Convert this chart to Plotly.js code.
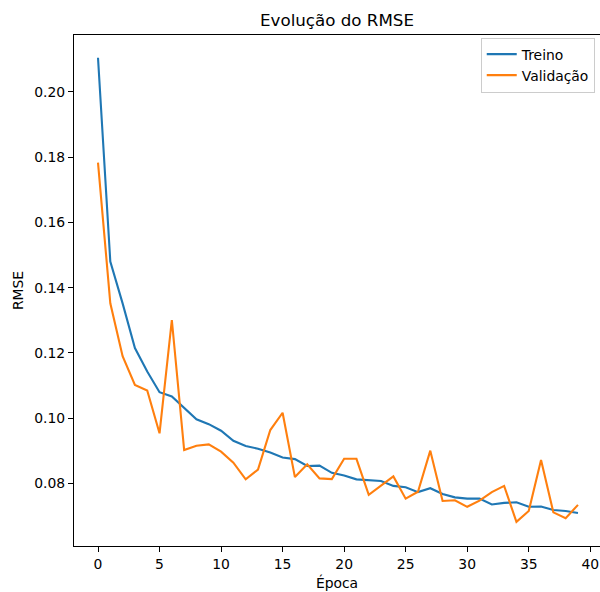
<!DOCTYPE html>
<html>
<head>
<meta charset="utf-8">
<script src="https://cdn.plot.ly/plotly-3.0.1.min.js"></script>
<style>
  html, body { margin: 0; padding: 0; background: #fff; }
  #chart { width: 600px; height: 592px; }
</style>
</head>
<body>
<div id="chart"></div>
<script>
// Training history: RMSE per epoch
const epocas = Array.from({length: 40}, (_, i) => i);

const treino = [
  0.2104, 0.1480, 0.1352, 0.1215, 0.1143, 0.1080, 0.1067, 0.1031, 0.0997, 0.0982,
  0.0962, 0.0931, 0.0915, 0.0907, 0.0895, 0.0880, 0.0875, 0.0854, 0.0855, 0.0833,
  0.0825, 0.0813, 0.0811, 0.0808, 0.0793, 0.0789, 0.0774, 0.0786, 0.0768, 0.0758,
  0.0754, 0.0754, 0.0736, 0.0741, 0.0743, 0.0729, 0.0730, 0.0719, 0.0716, 0.0710
];

const validacao = [
  0.1783, 0.1352, 0.1190, 0.1102, 0.1085, 0.0954, 0.1301, 0.0903, 0.0916, 0.0920,
  0.0898, 0.0864, 0.0813, 0.0843, 0.0964, 0.1017, 0.0820, 0.0859, 0.0816, 0.0814,
  0.0876, 0.0876, 0.0766, 0.0793, 0.0822, 0.0754, 0.0775, 0.0901, 0.0747, 0.0749,
  0.0729, 0.0748, 0.0774, 0.0793, 0.0683, 0.0716, 0.0872, 0.0712, 0.0694, 0.0735
];

const xTicks = [0, 5, 10, 15, 20, 25, 30, 35, 40];
const yTicks = [0.08, 0.10, 0.12, 0.14, 0.16, 0.18, 0.20];

const FONT = 'DejaVu Sans, sans-serif';

const traces = [
  { x: epocas, y: treino, name: 'Treino', mode: 'lines',
    line: { color: '#1f77b4', width: 2.1 } },
  { x: epocas, y: validacao, name: 'Validação', mode: 'lines',
    line: { color: '#ff7f0e', width: 2.1 } }
];

const layout = {
  width: 600, height: 592,
  margin: { l: 74, r: 0, t: 35, b: 46 },
  paper_bgcolor: '#fff', plot_bgcolor: '#fff',
  font: { family: FONT, size: 13.9, color: '#000' },
  title: {
    text: 'Evolução do RMSE',
    font: { family: FONT, size: 16.7, color: '#000' },
    xref: 'paper', x: 0.5, xanchor: 'center',
    yref: 'container', y: 1 - 20 / 592, yanchor: 'middle'
  },
  xaxis: {
    range: [-1.95, 40.79],
    tickvals: xTicks, ticktext: xTicks.map(String),
    ticks: 'outside', ticklen: 5, tickwidth: 1, tickcolor: '#000',
    showline: true, linecolor: '#000', linewidth: 1, mirror: true,
    showgrid: false, zeroline: false,
    title: { text: 'Época', font: { family: FONT, size: 13.9 }, standoff: 7 }
  },
  yaxis: {
    range: [0.0609, 0.21736],
    tickvals: yTicks, ticktext: yTicks.map(v => v.toFixed(2)),
    ticks: 'outside', ticklen: 5, tickwidth: 1, tickcolor: '#000',
    showline: true, linecolor: '#000', linewidth: 1,
    showgrid: false, zeroline: false,
    title: { text: 'RMSE', font: { family: FONT, size: 13.9 }, standoff: 7 }
  },
  showlegend: true,
  legend: {
    x: 0.99, xanchor: 'right', y: 0.995, yanchor: 'top',
    bgcolor: 'rgba(255,255,255,0.8)', bordercolor: '#cccccc', borderwidth: 1,
    font: { family: FONT, size: 13.9, color: '#000' },
    tracegroupgap: 0
  }
};

Plotly.newPlot('chart', traces, layout, { displayModeBar: false, staticPlot: true });
</script>
</body>
</html>
